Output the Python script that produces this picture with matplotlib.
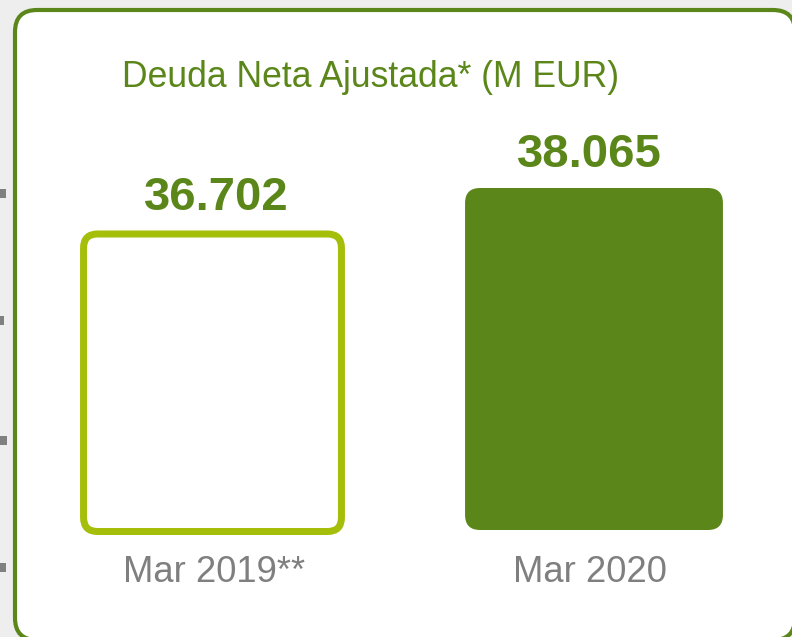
import matplotlib
matplotlib.use("Agg")
import matplotlib.pyplot as plt
from matplotlib.patches import FancyBboxPatch, Rectangle

# ---- data ----
categories = ["Mar 2019**", "Mar 2020"]
values = [36702, 38065]
value_labels = ["36.702", "38.065"]
title = "Deuda Neta Ajustada* (M EUR)"

# ---- style ----
DARK = "#5b871a"
LIGHT = "#a5be0a"
GRAY = "#7f7f7f"
plt.rcParams['font.family'] = ['Liberation Sans', 'DejaVu Sans']

W, H, DPI = 792, 637, 100
fig = plt.figure(figsize=(W / DPI, H / DPI), dpi=DPI)
fig.patch.set_facecolor("#eeeeee")

# background decoration axes in pixel space
bg = fig.add_axes([0, 0, 1, 1], zorder=0)
bg.set_xlim(0, W)
bg.set_ylim(H, 0)
bg.axis("off")
bg.add_patch(FancyBboxPatch((15, 10), 780, 630,
                            boxstyle="round,pad=0,rounding_size=22",
                            facecolor="white", edgecolor=DARK, linewidth=3.0,
                            clip_on=True))
for yc, w in zip([193, 320, 440, 567], [6, 4, 7, 6]):
    bg.add_patch(Rectangle((0, yc - 4.5), w, 9, facecolor="#808080", edgecolor="none"))

fig.text(371 / W, 1 - 87 / H, title, ha="center", va="baseline",
         fontsize=25.6, color=DARK)

# main chart axes
base_px, top_px = 530, 100
ax_left = 21.75
ax_w = 763
ax = fig.add_axes([ax_left / W, 1 - base_px / H, ax_w / W, (base_px - top_px) / H], zorder=1)
ax.patch.set_alpha(0)
ax.axis("off")

px_per_unit_y = 0.03375
b0 = values[1] - 342 / px_per_unit_y
ax.set_xlim(-0.5, len(categories) - 0.5)
ax.set_ylim(b0, b0 + (base_px - top_px) / px_per_unit_y)

bar_w = 0.676
x = list(range(len(categories)))
bars = ax.bar(x, [v - b0 for v in values], bottom=b0, width=bar_w, alpha=0)

# aspect for circular rounding
p0 = ax.transData.transform((0, b0))
p1 = ax.transData.transform((1, b0 + 1000))
pxx = p1[0] - p0[0]
pxy = (p1[1] - p0[1]) / 1000
aspect = pxx / pxy
lw_px = 7
value_dx = [3.5, -4.5]
cat_dx = [1.5, -4.0]
for i, b in enumerate(bars):
    bx, by = b.get_x(), b.get_y()
    bw, bh = b.get_width(), b.get_height()
    if i == 0:
        r = 14 / pxx
        patch = FancyBboxPatch((bx, by - 1.5 / pxy), bw, bh + 1.5 / pxy,
                               boxstyle=f"round,pad=0,rounding_size={r}",
                               mutation_aspect=aspect, facecolor="white",
                               edgecolor=LIGHT, linewidth=lw_px * 72 / DPI,
                               clip_on=False)
        extra = lw_px / 2
    else:
        r = 15 / pxx
        patch = FancyBboxPatch((bx, by), bw, bh,
                               boxstyle=f"round,pad=0,rounding_size={r}",
                               mutation_aspect=aspect, facecolor=DARK,
                               edgecolor="none", clip_on=False)
        extra = 0
    ax.add_patch(patch)
    ax.annotate(value_labels[i], (x[i], values[i]),
                xytext=(value_dx[i] * 72 / DPI, (21 + extra) * 72 / DPI),
                textcoords="offset points",
                ha="center", va="baseline", fontsize=34, fontweight="bold",
                color=DARK, annotation_clip=False)
    ax.annotate(categories[i], (x[i], b0),
                xytext=(cat_dx[i] * 72 / DPI, -52 * 72 / DPI),
                textcoords="offset points",
                ha="center", va="baseline", fontsize=26.2, color=GRAY,
                annotation_clip=False)

fig.savefig("out.png", dpi=DPI, facecolor=fig.get_facecolor())
